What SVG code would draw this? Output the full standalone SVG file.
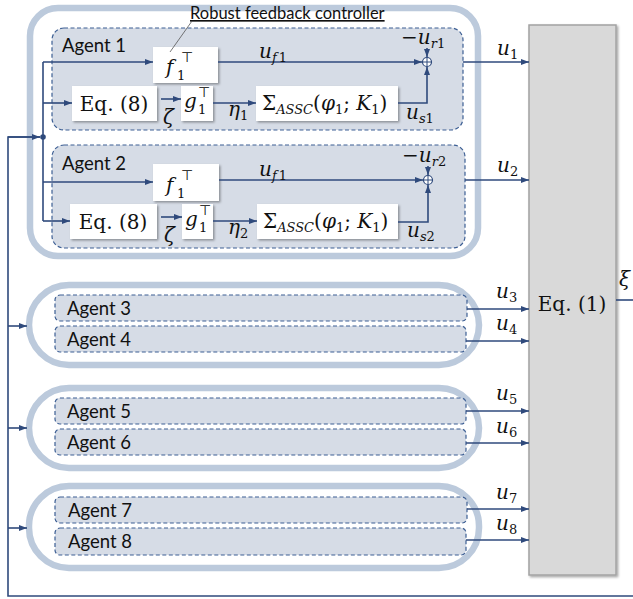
<svg xmlns="http://www.w3.org/2000/svg" width="633" height="599" viewBox="0 0 633 599">
  <style>
    .grp { fill: none; stroke: #bccadc; stroke-width: 6.5; }
    .agent { fill: #d6dce6; stroke: #3d5f94; stroke-width: 1.2; stroke-dasharray: 4 2.5; }
    .blk { fill: #ffffff; filter: url(#shadow); }
    .plant { fill: #d9d9d9; stroke: #a3a3a3; stroke-width: 1.5; filter: url(#shadow); }
    .wire { fill: none; stroke: #2f4a7c; stroke-width: 1.6; }
    .arr { marker-end: url(#ah); }
    .lbl { font-family: Lato, "Liberation Sans", sans-serif; font-size: 18.5px; fill: #111; }
    .note { font-family: Lato, "Liberation Sans", sans-serif; font-size: 16.5px; fill: #111; text-decoration: underline; }
    .m { font-family: "DejaVu Serif", "Liberation Serif", serif; font-size: 20px; fill: #111; }
    .it { font-style: italic; }
    .sub { font-size: 13px; }
    .sup { font-family: "DejaVu Sans", sans-serif; font-size: 14px; font-style: normal; }
  </style>
  <defs>
    <marker id="ah" viewBox="0 0 8 6" refX="8" refY="3" markerWidth="8" markerHeight="6" orient="auto" markerUnits="userSpaceOnUse">
      <path d="M0,0 L8,3 L0,6 z" fill="#2f4a7c"/>
    </marker>
    <filter id="shadow" x="-10%" y="-10%" width="130%" height="130%">
      <feDropShadow dx="1.5" dy="1.5" stdDeviation="1" flood-color="#000" flood-opacity="0.35"/>
    </filter>
  </defs>

  <!-- group containers -->
  <rect class="grp" x="30" y="8" width="448" height="248" rx="28"/>
  <rect class="grp" x="29" y="285" width="450" height="80" rx="40"/>
  <rect class="grp" x="29" y="388" width="450" height="80" rx="40"/>
  <rect class="grp" x="29" y="486" width="450" height="82" rx="40"/>

  <!-- Agent 1 -->
  <g id="agent1">
    <rect class="agent" x="52" y="28" width="411" height="102" rx="12"/>
    <text class="lbl" x="62" y="52">Agent 1</text>
    <rect class="blk" x="153" y="47" width="65" height="36"/>
    <text class="m it" x="166" y="74" font-size="22">f</text>
    <text class="m sub" x="177" y="80">1</text>
    <text class="sup" x="181" y="62">⊤</text>
    <rect class="blk" x="72" y="86" width="85" height="35"/>
    <text class="m" x="114" y="111" text-anchor="middle">Eq. (8)</text>
    <rect class="blk" x="181" y="86" width="32" height="35"/>
    <text class="m it" x="184" y="108">g</text>
    <text class="m sub" x="198" y="114">1</text>
    <text class="sup" x="198" y="97">⊤</text>
    <rect class="blk" x="256" y="86" width="142" height="35"/>
    <text class="m" x="262" y="110">Σ<tspan class="it sub" dy="4">ASSC</tspan><tspan dy="-4">(</tspan><tspan class="it">φ</tspan><tspan class="sub" dy="4">1</tspan><tspan dy="-4">; </tspan><tspan class="it">K</tspan><tspan class="sub" dy="4">1</tspan><tspan dy="-4">)</tspan></text>
    <circle cx="427" cy="62" r="4.5" fill="#ffffff" stroke="#2f4a7c" stroke-width="1.2"/>
    <path d="M422.5,62 H431.5 M427,57.5 V66.5" stroke="#2f4a7c" stroke-width="1"/>
  </g>

  <!-- Agent 2 -->
  <g id="agent2">
    <rect class="agent" x="52" y="145" width="413" height="103" rx="12"/>
    <text class="lbl" x="62" y="170">Agent 2</text>
    <rect class="blk" x="153" y="164" width="66" height="37"/>
    <text class="m it" x="166" y="192" font-size="22">f</text>
    <text class="m sub" x="177" y="198">1</text>
    <text class="sup" x="181" y="180">⊤</text>
    <rect class="blk" x="70" y="204" width="87" height="35"/>
    <text class="m" x="113" y="229" text-anchor="middle">Eq. (8)</text>
    <rect class="blk" x="182" y="204" width="31" height="35"/>
    <text class="m it" x="185" y="226">g</text>
    <text class="m sub" x="199" y="232">1</text>
    <text class="sup" x="199" y="215">⊤</text>
    <rect class="blk" x="257" y="204" width="141" height="35"/>
    <text class="m" x="263" y="228">Σ<tspan class="it sub" dy="4">ASSC</tspan><tspan dy="-4">(</tspan><tspan class="it">φ</tspan><tspan class="sub" dy="4">1</tspan><tspan dy="-4">; </tspan><tspan class="it">K</tspan><tspan class="sub" dy="4">1</tspan><tspan dy="-4">)</tspan></text>
    <circle cx="428" cy="180" r="4.5" fill="#ffffff" stroke="#2f4a7c" stroke-width="1.2"/>
    <path d="M423.5,180 H432.5 M428,175.5 V184.5" stroke="#2f4a7c" stroke-width="1"/>
  </g>

  <!-- Agents 3 to 8 -->
  <g id="agent3"><rect class="agent" x="55" y="295" width="412" height="26" rx="5"/><text class="lbl" x="67" y="315">Agent 3</text></g>
  <g id="agent4"><rect class="agent" x="55" y="326" width="411" height="26" rx="5"/><text class="lbl" x="67" y="346">Agent 4</text></g>
  <g id="agent5"><rect class="agent" x="55" y="398" width="411" height="26" rx="5"/><text class="lbl" x="67" y="418">Agent 5</text></g>
  <g id="agent6"><rect class="agent" x="55" y="429" width="411" height="26" rx="5"/><text class="lbl" x="67" y="449">Agent 6</text></g>
  <g id="agent7"><rect class="agent" x="55" y="497" width="412" height="26" rx="5"/><text class="lbl" x="68" y="517">Agent 7</text></g>
  <g id="agent8"><rect class="agent" x="55" y="528" width="411" height="27" rx="5"/><text class="lbl" x="68" y="548">Agent 8</text></g>

  <!-- plant -->
  <g id="plant">
    <rect class="plant" x="529" y="25" width="87" height="550"/>
    <text class="m" x="572" y="311" text-anchor="middle" font-size="23">Eq. (1)</text>
  </g>

  <!-- annotation -->
  <g id="note">
    <text class="note" x="190" y="19">Robust feedback controller</text>
    <path d="M192,21 L170,52" stroke="#555" stroke-width="0.8"/>
  </g>

  <!-- connectors -->
  <g id="connectors">
    <path class="wire" d="M633,596 H8 V137 H40"/>
    <path class="wire arr" d="M8,137 H40"/>
    <circle cx="43" cy="137" r="2.8" fill="#2f4a7c"/>
    <path class="wire" d="M43,62 V221"/>
    <path class="wire arr" d="M43,62 H153"/>
    <path class="wire arr" d="M43,103 H72"/>
    <path class="wire arr" d="M161,99 H181"/>
    <path class="wire arr" d="M213,103 H256"/>
    <path class="wire arr" d="M218,62 H422"/>
    <path class="wire arr" d="M398,103 H427 V67"/>
    <path class="wire arr" d="M427,48 V57"/>
    <path class="wire arr" d="M463,62 H529"/>

    <path class="wire arr" d="M43,182 H153"/>
    <path class="wire arr" d="M43,221 H70"/>
    <path class="wire arr" d="M161,217 H182"/>
    <path class="wire arr" d="M213,221 H257"/>
    <path class="wire arr" d="M219,180 H423"/>
    <path class="wire arr" d="M398,222 H428 V185"/>
    <path class="wire arr" d="M428,166 V175"/>
    <path class="wire arr" d="M465,180 H529"/>

    <path class="wire arr" d="M8,326 H27"/>
    <path class="wire arr" d="M8,428 H27"/>
    <path class="wire arr" d="M8,528 H27"/>

    <path class="wire arr" d="M467,309 H529"/>
    <path class="wire arr" d="M466,341 H529"/>
    <path class="wire arr" d="M466,411 H529"/>
    <path class="wire arr" d="M466,443 H529"/>
    <path class="wire arr" d="M467,509 H529"/>
    <path class="wire arr" d="M466,540 H529"/>
    <path class="wire" d="M616,300 H633"/>
  </g>

  <!-- signal labels -->
  <g id="signal-labels">
    <text class="m it" x="259" y="58">u<tspan class="sub" dy="4">f</tspan><tspan class="sub" font-style="normal" dx="2">1</tspan></text>
    <text class="m" x="401" y="44">−<tspan class="it">u</tspan><tspan class="sub it" dy="4">r</tspan><tspan class="sub">1</tspan></text>
    <text class="m it" x="406" y="119">u<tspan class="sub" dy="4">s</tspan><tspan class="sub" font-style="normal">1</tspan></text>
    <text class="m it" x="163" y="124">ζ</text>
    <text class="m it" x="228" y="116">η<tspan class="sub" font-style="normal" dy="4">1</tspan></text>
    <text class="m it" x="497" y="55">u<tspan class="sub" font-style="normal" dy="4">1</tspan></text>

    <text class="m it" x="259" y="176">u<tspan class="sub" dy="4">f</tspan><tspan class="sub" font-style="normal" dx="2">1</tspan></text>
    <text class="m" x="402" y="162">−<tspan class="it">u</tspan><tspan class="sub it" dy="4">r</tspan><tspan class="sub">2</tspan></text>
    <text class="m it" x="407" y="237">u<tspan class="sub" dy="4">s</tspan><tspan class="sub" font-style="normal">2</tspan></text>
    <text class="m it" x="164" y="242">ζ</text>
    <text class="m it" x="228" y="234">η<tspan class="sub" font-style="normal" dy="4">2</tspan></text>
    <text class="m it" x="497" y="172">u<tspan class="sub" font-style="normal" dy="4">2</tspan></text>

    <text class="m it" x="496" y="298">u<tspan class="sub" font-style="normal" dy="4">3</tspan></text>
    <text class="m it" x="496" y="330">u<tspan class="sub" font-style="normal" dy="4">4</tspan></text>
    <text class="m it" x="496" y="400">u<tspan class="sub" font-style="normal" dy="4">5</tspan></text>
    <text class="m it" x="496" y="433">u<tspan class="sub" font-style="normal" dy="4">6</tspan></text>
    <text class="m it" x="496" y="499">u<tspan class="sub" font-style="normal" dy="4">7</tspan></text>
    <text class="m it" x="496" y="530">u<tspan class="sub" font-style="normal" dy="4">8</tspan></text>
    <text class="m it" x="619" y="286">ξ</text>
  </g>
</svg>
